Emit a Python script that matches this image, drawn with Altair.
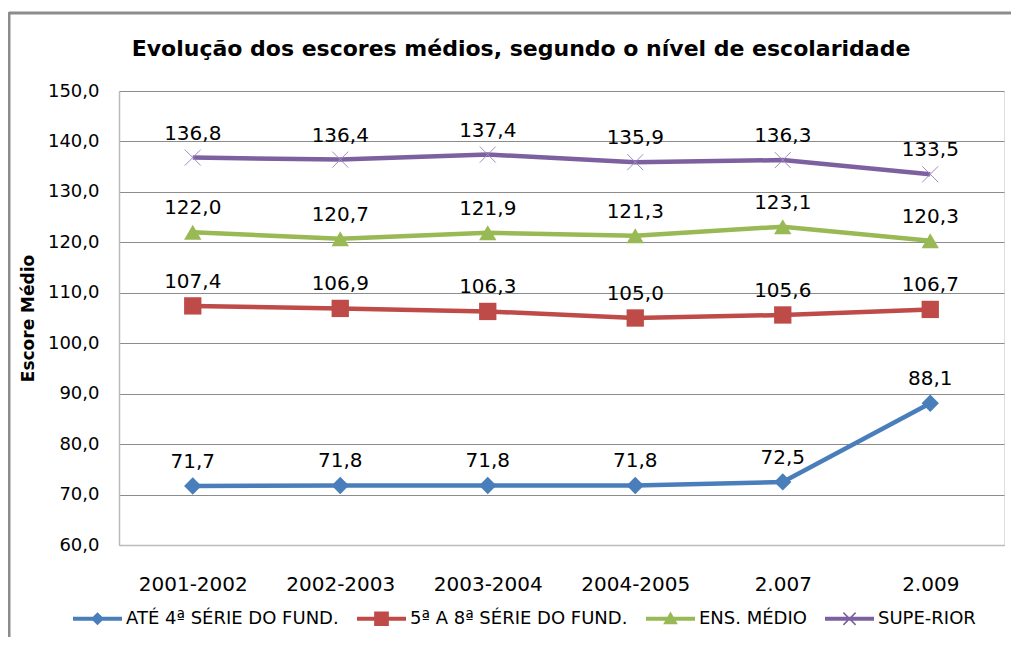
import altair as alt
import pandas as pd

categories = ["2001-2002", "2002-2003", "2003-2004", "2004-2005", "2.007", "2.009"]
series_names = ["ATÉ 4ª SÉRIE DO FUND.", "5ª A 8ª SÉRIE DO FUND.", "ENS. MÉDIO", "SUPE-RIOR"]
ate_4 = [71.7, 71.8, 71.8, 71.8, 72.5, 88.1]
serie_5_8 = [107.4, 106.9, 106.3, 105.0, 105.6, 106.7]
ens_medio = [122.0, 120.7, 121.9, 121.3, 123.1, 120.3]
superior = [136.8, 136.4, 137.4, 135.9, 136.3, 133.5]
y_ticks = [60, 70, 80, 90, 100, 110, 120, 130, 140, 150]
chart_title = "Evolução dos escores médios, segundo o nível de escolaridade"

colors = ["#4A7EBB", "#BE4B48", "#98B954", "#7D60A0"]
FONT = "DejaVu Sans"

rows = []
for name, vals in zip(series_names, [ate_4, serie_5_8, ens_medio, superior]):
    for c, v in zip(categories, vals):
        rows.append({"cat": c, "serie": name, "valor": v})
df = pd.DataFrame(rows)

base = alt.Chart(df).transform_calculate(
    rotulo="replace(format(datum.valor, '.1f'), '.', ',')"
)

xenc = alt.X(
    "cat:N",
    sort=categories,
    scale=alt.Scale(type="point", padding=0.5),
    axis=alt.Axis(
        title=None, labelAngle=0, ticks=False, grid=False,
        domainColor="#BBBBBB", domainWidth=1.5,
        labelFont=FONT, labelFontSize=20, labelColor="#000000", labelPadding=29,
    ),
)
yenc = alt.Y(
    "valor:Q",
    scale=alt.Scale(domain=[60, 150], nice=False, zero=False),
    axis=alt.Axis(
        values=y_ticks,
        labelExpr="replace(format(datum.value, '.1f'), '.', ',')",
        title="Escore Médio", titleFont=FONT, titleFontSize=17, titleFontWeight="bold",
        titleColor="#000000", titleAngle=-90, titleX=-91, titleY=227,
        titleAlign="center", titleBaseline="middle",
        ticks=False, grid=True, gridColor="#8C8C8C", gridWidth=1,
        domainColor="#BBBBBB", domainWidth=1.5,
        labelFont=FONT, labelFontSize=18, labelColor="#000000", labelPadding=20,
    ),
)

color_scale = alt.Scale(domain=series_names, range=colors)

lines = base.mark_line(strokeWidth=4.5).encode(
    x=xenc, y=yenc,
    color=alt.Color("serie:N", scale=color_scale, legend=None),
    detail="serie:N",
)

markers = base.transform_filter(
    alt.datum.serie != "SUPE-RIOR"
).mark_point(filled=True, opacity=1, size=300).encode(
    x=xenc, y=yenc,
    color=alt.Color("serie:N", scale=color_scale, legend=None),
    shape=alt.Shape("serie:N", scale=alt.Scale(
        domain=series_names[:3], range=["diamond", "square", "triangle-up"]), legend=None),
)

xmarks = base.transform_filter(
    alt.datum.serie == "SUPE-RIOR"
).mark_point(filled=False, shape="M-1,-1L1,1M-1,1L1,-1", size=256,
             stroke="#A08CC4", strokeWidth=1, opacity=1).encode(x=xenc, y=yenc)

labels = base.mark_text(
    font=FONT, fontSize=20, color="#000000", dy=-24, baseline="middle", align="center"
).encode(x=xenc, y=yenc, text="rotulo:N")

legend_paths = [
    "M-1,-0.08H1V0.08H-1Z M0,-0.27L0.27,0L0,0.27L-0.27,0Z",
    "M-1,-0.08H1V0.08H-1Z M-0.3,-0.3H0.3V0.3H-0.3Z",
    "M-1,-0.08H1V0.08H-1Z M0,-0.3L0.3,0.22L-0.3,0.22Z",
    "M-1,-0.08H1V0.08H-1Z M-0.229,-0.271L0.271,0.229L0.229,0.271L-0.271,-0.229Z "
    "M-0.229,0.271L-0.271,0.229L0.229,-0.271L0.271,-0.229Z",
]

leg = alt.Legend(
    title=None, orient="none", legendX=-46, legendY=503, direction="horizontal",
    columns=4, columnPadding=18, symbolSize=2401, symbolStrokeWidth=0,
    labelFont=FONT, labelFontSize=18, labelColor="#000000", labelOffset=4,
    labelLimit=400, symbolOpacity=1,
)

legend_layer = base.transform_filter("false").mark_point(
    filled=True, size=2401, opacity=1
).encode(
    x=xenc, y=yenc,
    color=alt.Color("serie:N", scale=alt.Scale(domain=series_names, range=colors),
                    legend=leg),
    shape=alt.Shape("serie:N", scale=alt.Scale(domain=series_names, range=legend_paths),
                    legend=leg),
)

one = alt.Data(values=[{"t": chart_title}])
frame = alt.Chart(one).mark_rule(
    color="#8C8C8C", strokeWidth=3
).encode(x=alt.value(-110), x2=alt.value(905), y=alt.value(-78))
frame_left = alt.Chart(one).mark_rule(
    color="#8C8C8C", strokeWidth=3
).encode(x=alt.value(-110), y=alt.value(-79), y2=alt.value(600))
title_text = alt.Chart(one).mark_text(
    font=FONT, fontSize=22, fontWeight="bold", color="#000000",
    align="center", baseline="middle"
).encode(x=alt.value(402), y=alt.value(-42), text="t:N")

chart = alt.layer(
    frame, frame_left, title_text, lines, markers, xmarks, labels, legend_layer
).resolve_scale(
    color="independent", shape="independent"
).properties(
    width=885, height=454,
    autosize=alt.AutoSizeParams(type="none"),
    padding={"left": 111, "top": 83, "right": 7, "bottom": 92},
).configure_view(
    fill="#F8F7F4", stroke=None
).configure(background="#FFFFFF")

chart.save("out.html", embed_options={"renderer": "svg", "actions": False})
